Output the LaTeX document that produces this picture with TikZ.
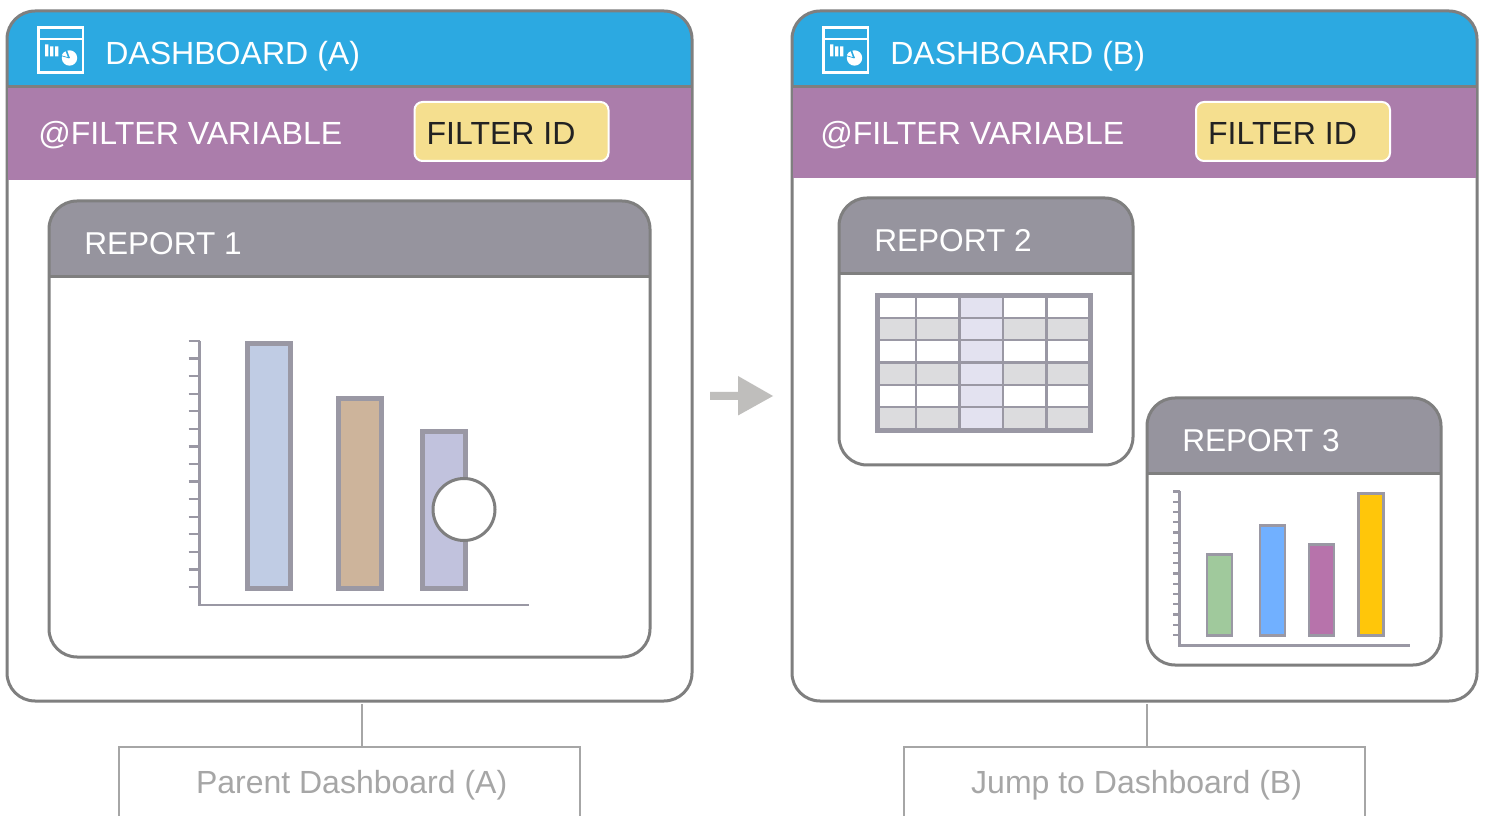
\documentclass[tikz,border=0pt]{standalone}
\usepackage{fontspec}
\setmainfont{Liberation Sans}
\definecolor{framegray}{HTML}{7F7F7F}
\definecolor{headblue}{HTML}{2CA9E1}
\definecolor{bandpurple}{HTML}{AB7DAB}
\definecolor{filteryellow}{HTML}{F5DF8F}
\definecolor{reporthead}{HTML}{96949E}
\definecolor{chartgray}{HTML}{9A98A4}
\definecolor{labelgray}{HTML}{A6A6A6}
\definecolor{arrowgray}{HTML}{BFBEBC}
\definecolor{rowgray}{HTML}{DCDCDE}
\definecolor{collav}{HTML}{E3E2F0}
\definecolor{inkdark}{HTML}{222222}
\newcommand{\cardbox}[7]{% name x1 y1 x2 y2 yh headcolor
  \pgfmathsetmacro{\cw}{#4-#2}\pgfmathsetmacro{\ch}{#5-#3}
  \fill[white,rounded corners=21pt] (#2,#3) rectangle (#4,#5);
  \fill[#7] (#2,#6) [rounded corners=21pt] -- (#2,#3) -- (#4,#3) [sharp corners] -- (#4,#6) -- cycle;
  \draw[cardline] (#2,#6) -- (#4,#6);
  \node[cardframe,minimum width=\cw*0.75pt,minimum height=\ch*0.75pt] (#1) at (#2,#3) {};
}
\newcommand{\dashicon}{%
  \draw[iconline,line width=2.2pt] (38.2,27.2) rectangle (83,72.2);
  \draw[iconline,line width=1.7pt] (38.2,39) -- (83,39);
  \fill[white] (45,44.5) rectangle (48.3,56.5) (50,46.5) rectangle (53.3,56.5) (55,46.5) rectangle (58.3,56.5);
  \fill[white] (69.5,58) circle (7.7);
  \draw[headblue,line width=0.7pt] (69.5,58) -- (66,50) (69.5,58) -- (61,55.5);
  \fill[headblue] (69.5,58) -- (67,50) -- (62,54) -- cycle;
  \fill[white] (67.7,57) -- (61.9,55.2) arc (197:250:6) -- cycle;
}
\tikzset{
  x=0.75pt,y=-0.75pt,
  cardline/.style={framegray,line width=2.25pt},
  cardframe/.style={draw=framegray,line width=2.25pt,rounded corners=21pt,anchor=north west,inner sep=0pt,outer sep=0pt,fill=none},
  iconline/.style={draw=white},
  whitetext/.style={text=white,anchor=base west,inner sep=0pt,font=\fontsize{24.05pt}{28pt}\selectfont},
  reporttext/.style={text=white,anchor=base west,inner sep=0pt,font=\fontsize{23.7pt}{28pt}\selectfont},
  filterbox/.style={draw=white,line width=1.5pt,fill=filteryellow,rounded corners=6pt,anchor=north west,inner sep=0pt,outer sep=0pt,minimum width=145.5pt,minimum height=44.25pt,text=inkdark,text height=19.2pt,text depth=0pt,font=\fontsize{24pt}{28pt}\selectfont},
  bigbar/.style={draw=chartgray,line width=3.8pt},
  smallbar/.style={draw=chartgray,line width=2pt},
  axisline/.style={draw=chartgray,line width=2pt},
  tickline/.style={draw=chartgray,line width=1.7pt},
  gridline/.style={draw=chartgray,line width=1.9pt},
  caption/.style={draw=labelgray,line width=2pt,text=labelgray,inner sep=0pt,outer sep=0pt,minimum width=345.75pt,minimum height=57pt,font=\fontsize{24pt}{28pt}\selectfont},
  connector/.style={draw=labelgray,line width=1.7pt},
}
\begin{document}
\begin{tikzpicture}
\useasboundingbox (0,0) rectangle (1486,816);
\fill[white] (0,0) rectangle (1486,816);
\begin{scope}
\clip (0,0) rectangle (1486,816);
\node[caption] (capA) at (349.5,785) {\hspace*{3.2pt}Parent Dashboard (A)};
\node[caption] (capB) at (1134.5,785) {\hspace*{3.2pt}Jump to Dashboard (B)};
\end{scope}

% Dashboard A
\cardbox{dashA}{7}{11}{692}{701}{87}{headblue}
\fill[bandpurple] (8,88) rectangle (691,180);
\draw[cardline] (7,87) -- (692,87);
\begin{scope}\dashicon\end{scope}
\node[whitetext] (titleA) at (105,65) {DASHBOARD (A)};
\node[whitetext] (varA) at (38,145) {@FILTER VARIABLE};
\node[filterbox] (filterA) at (414.5,102) {FILTER ID\hspace*{15.75pt}};

% Dashboard B
\cardbox{dashB}{792}{11}{1477}{701}{87}{headblue}
\fill[bandpurple] (793,88) rectangle (1476,178);
\draw[cardline] (792,87) -- (1477,87);
\begin{scope}[shift={(785,0)}]\dashicon\end{scope}
\node[whitetext] (titleB) at (890,65) {DASHBOARD (B)};
\node[whitetext] (varB) at (820,145) {@FILTER VARIABLE};
\node[filterbox] (filterB) at (1196,102) {FILTER ID\hspace*{15.75pt}};

% Report 1
\cardbox{repA}{49}{201}{650}{657}{277}{reporthead}
\node[reporttext] (rep1) at (84,255) {REPORT 1};
\draw[tickline] \foreach \i in {0,...,14} {(188.5,{341+\i*17.57}) -- (199.5,{341+\i*17.57})};
\draw[axisline] (199.5,341) -- (199.5,605) -- (529,605);
\draw[bigbar,fill={rgb,255:red,192;green,204;blue,228}] (247.5,343.5) rectangle (290.5,588.5);
\draw[bigbar,fill={rgb,255:red,205;green,180;blue,155}] (338.5,398.5) rectangle (381.5,588.5);
\draw[bigbar,fill={rgb,255:red,193;green,194;blue,221}] (422.5,431.5) rectangle (465.5,588.5);
\node[circle,draw=framegray,line width=2.25pt,fill=white,minimum size=46.5pt,inner sep=0pt,outer sep=0pt] (marker) at (464,509.5) {};

% Report 2
\cardbox{repB}{839}{198}{1133}{465}{274}{reporthead}
\node[reporttext] (rep2) at (874,252) {REPORT 2};
\fill[white] (877,295) rectangle (1091,431);
\fill[rowgray] (877,318) rectangle (1091,340) (877,362.5) rectangle (1091,385) (877,407) rectangle (1091,431);
\fill[collav] (959.5,295) rectangle (1003,431);
\draw[gridline] (916,295) -- (916,431) (959.5,295) -- (959.5,431) (1003,295) -- (1003,431) (1046.5,295) -- (1046.5,431);
\draw[gridline] (877,318) -- (1091,318) (877,340) -- (1091,340) (877,362.5) -- (1091,362.5) (877,385) -- (1091,385) (877,407) -- (1091,407);
\draw[bigbar] (877.5,295.5) rectangle (1090.5,430.5);

% Report 3
\cardbox{repC}{1147}{398}{1441}{665}{474}{reporthead}
\node[reporttext] (rep3) at (1182,452) {REPORT 3};
\draw[tickline] \foreach \i in {0,...,14} {(1173,{491.5+\i*10.26}) -- (1179.5,{491.5+\i*10.26})};
\draw[axisline] (1179.5,491) -- (1179.5,645.7) -- (1410,645.7);
\draw[smallbar,fill={rgb,255:red,160;green,201;blue,156}] (1207,554.8) rectangle (1232,635.3);
\draw[smallbar,fill={rgb,255:red,113;green,176;blue,255}] (1260,525.2) rectangle (1285,635.3);
\draw[smallbar,fill={rgb,255:red,183;green,115;blue,171}] (1309,544.8) rectangle (1334,635.3);
\draw[smallbar,fill={rgb,255:red,255;green,198;blue,10}] (1358.7,493.5) rectangle (1383.7,635.3);

% Arrow between dashboards
\fill[arrowgray] (710,392) -- (738,392) -- (738,376) -- (773,396) -- (738,415.5) -- (738,400) -- (710,400) -- cycle;

% Connectors
\coordinate (tapA) at (361.7,704);
\coordinate (tapB) at (1146.7,704);
\draw[connector] (tapA) -- (tapA |- capA.north);
\draw[connector] (tapB) -- (tapB |- capB.north);
\end{tikzpicture}
\end{document}
